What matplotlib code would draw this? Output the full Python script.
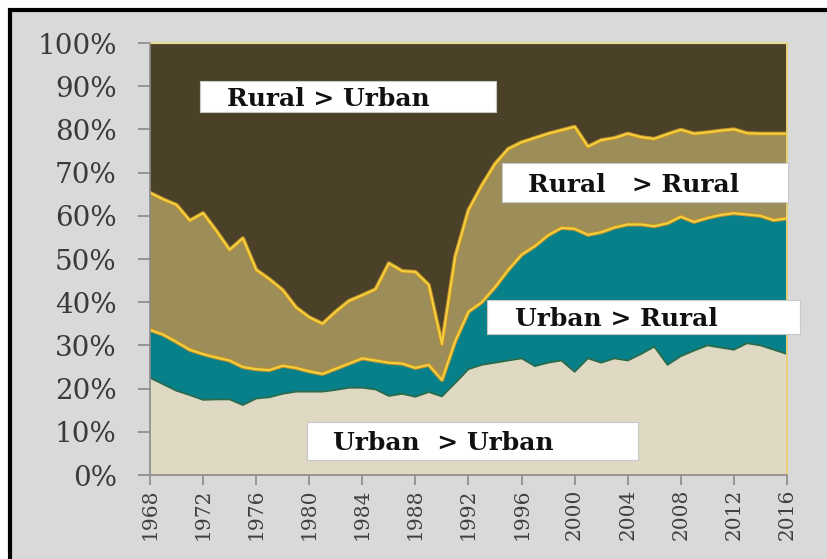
import numpy as np
import matplotlib
matplotlib.use("Agg")
import matplotlib.pyplot as plt
from matplotlib.patches import Rectangle

# ---------------- data ----------------
years = list(range(1968, 2017))

urban_urban = [22.5, 21, 19.5, 18.5, 17.4, 17.5, 17.5, 16.2, 17.7, 18,
               18.8, 19.3, 19.3, 19.3, 19.7, 20.2, 20.2, 19.8, 18.3, 18.8,
               18.1, 19.2, 18.2, 21.3, 24.5, 25.5, 26, 26.5, 27, 25.2,
               26, 26.5, 23.9, 27, 26, 27, 26.5, 28, 29.7, 25.5,
               27.5, 28.8, 30, 29.5, 29, 30.5, 30, 29, 28]

urban_rural = [11.1, 11.5, 11.3, 10.5, 10.6, 9.7, 9.0, 8.8, 6.8, 6.3,
               6.5, 5.5, 4.7, 4.1, 4.9, 5.6, 6.8, 6.7, 7.7, 7.0,
               6.7, 6.3, 3.8, 9.7, 13.3, 14.5, 17.5, 21.0, 24.0, 27.8,
               29.5, 30.7, 33.1, 28.6, 30.2, 30.3, 31.5, 30.0, 27.9, 32.8,
               32.3, 29.8, 29.5, 30.7, 31.6, 29.8, 30.0, 30.0, 31.4]

rural_rural = [31.7, 31.3, 31.7, 29.9, 32.6, 29.3, 25.6, 29.8, 23.0, 21.0,
               17.5, 14.0, 12.5, 11.6, 13.2, 14.5, 14.6, 16.5, 23.0, 21.4,
               22.2, 18.5, 8.3, 19.5, 23.5, 27.0, 28.5, 28.0, 26.0, 25.0,
               23.5, 22.6, 23.6, 20.4, 21.3, 20.7, 21.0, 20.2, 20.2, 20.6,
               20.1, 20.4, 19.8, 19.5, 19.4, 18.8, 19.0, 20.0, 19.6]

rural_urban = [34.7, 36.2, 37.5, 41.1, 39.4, 43.5, 47.9, 45.2, 52.5, 54.7,
               57.2, 61.2, 63.5, 65.0, 62.2, 59.7, 58.4, 57.0, 51.0, 52.8,
               53.0, 56.0, 69.7, 49.5, 38.7, 33.0, 28.0, 24.5, 23.0, 22.0,
               21.0, 20.2, 19.4, 24.0, 22.5, 22.0, 21.0, 21.8, 22.2, 21.1,
               20.1, 21.0, 20.7, 20.3, 20.0, 20.9, 21.0, 21.0, 21.0]

series_labels = ["Urban  > Urban", "Urban > Rural", "Rural   > Rural", "Rural > Urban"]
y_ticks = list(range(0, 101, 10))
y_tick_labels = [f"{v}%" for v in y_ticks]
x_ticks = list(range(1968, 2017, 4))

# ---------------- style ----------------
c_uu = "#dfd9c4"
c_ur = "#07808a"
c_rr = "#9c8d59"
c_ru = "#4a4128"
c_yellow = "#f4d040"
c_orange = "#c2922a"
c_edge_uu = "#2a6b4c"
fig_bg = "#d9d9d9"

W, H = 827, 559
fig = plt.figure(figsize=(W / 100, H / 100), dpi=100)
fig.patch.set_facecolor("white")

# outer black frame with gray fill
fig.add_artist(Rectangle((10 / W, -0.1), 1.2, (H - 10) / H + 0.1,
                         transform=fig.transFigure, facecolor=fig_bg,
                         edgecolor="black", linewidth=3, zorder=0))

ax = fig.add_axes([150 / W, 1 - 475 / H, (787 - 150) / W, (475 - 43) / H])
ax.set_facecolor(fig_bg)

ax.stackplot(years, urban_urban, urban_rural, rural_rural, rural_urban,
             colors=[c_uu, c_ur, c_rr, c_ru], linewidth=0, zorder=1)

cum = np.cumsum(np.array([urban_urban, urban_rural, rural_rural]), axis=0)
ax.plot(years, cum[0], color=c_edge_uu, lw=1.3, zorder=2)
for k in (1, 2):
    ax.plot(years, cum[k], color=c_orange, lw=3.0, zorder=3, solid_joinstyle="round")
    ax.plot(years, cum[k], color=c_yellow, lw=1.5, zorder=4, solid_joinstyle="round")

ax.axhline(100, color="#eadb96", lw=1.6, zorder=5, clip_on=False)
ax.axvline(years[-1], color="#e6d07a", lw=1.4, zorder=5, clip_on=False)

ax.set_xlim(years[0], years[-1])
ax.set_ylim(0, 100)

for s in ("top", "right"):
    ax.spines[s].set_visible(False)
for s in ("left", "bottom"):
    ax.spines[s].set_color("#8a8a8a")
    ax.spines[s].set_linewidth(1.2)
    ax.spines[s].set_zorder(6)

ax.set_yticks(y_ticks)
ax.set_yticklabels(y_tick_labels, family="DejaVu Serif", fontsize=20, color="#3a3a3a")
ax.set_xticks(x_ticks)
ax.set_xticklabels([str(y) for y in x_ticks], family="DejaVu Serif", fontsize=14.5,
                   color="#404040", rotation=90)
ax.tick_params(axis="y", length=9, width=1.2, color="#8a8a8a", pad=15)
ax.tick_params(axis="x", length=7, width=1.2, color="#8a8a8a", pad=3)

# label boxes (in axes-fraction coordinates)
def px_to_axes(px, py):
    return (px - 150) / (787 - 150), (475 - py) / (475 - 43)

boxes = [
    # (label, box left, box top, box right, box bottom, text left) in pixels
    (series_labels[3], 200, 81, 496, 112, 227),
    (series_labels[2], 502, 163, 788, 202, 528),
    (series_labels[1], 487, 300, 800, 334, 515),
    (series_labels[0], 307, 422, 638, 460, 333),
]
for label, l, t, r, b, tl in boxes:
    x0, y0 = px_to_axes(l, b)
    x1, y1 = px_to_axes(r, t)
    ax.add_patch(Rectangle((x0, y0), x1 - x0, y1 - y0, transform=ax.transAxes,
                           facecolor="white", edgecolor="#c8c8c8", lw=0.8,
                           zorder=7, clip_on=False))
    tx, _ = px_to_axes(tl, 0)
    ax.text(tx, (y0 + y1) / 2, label, transform=ax.transAxes, ha="left",
            va="center_baseline", family="DejaVu Serif", fontweight="bold",
            fontsize=18, color="#111111", zorder=8)

fig.savefig("out.png", dpi=100)
